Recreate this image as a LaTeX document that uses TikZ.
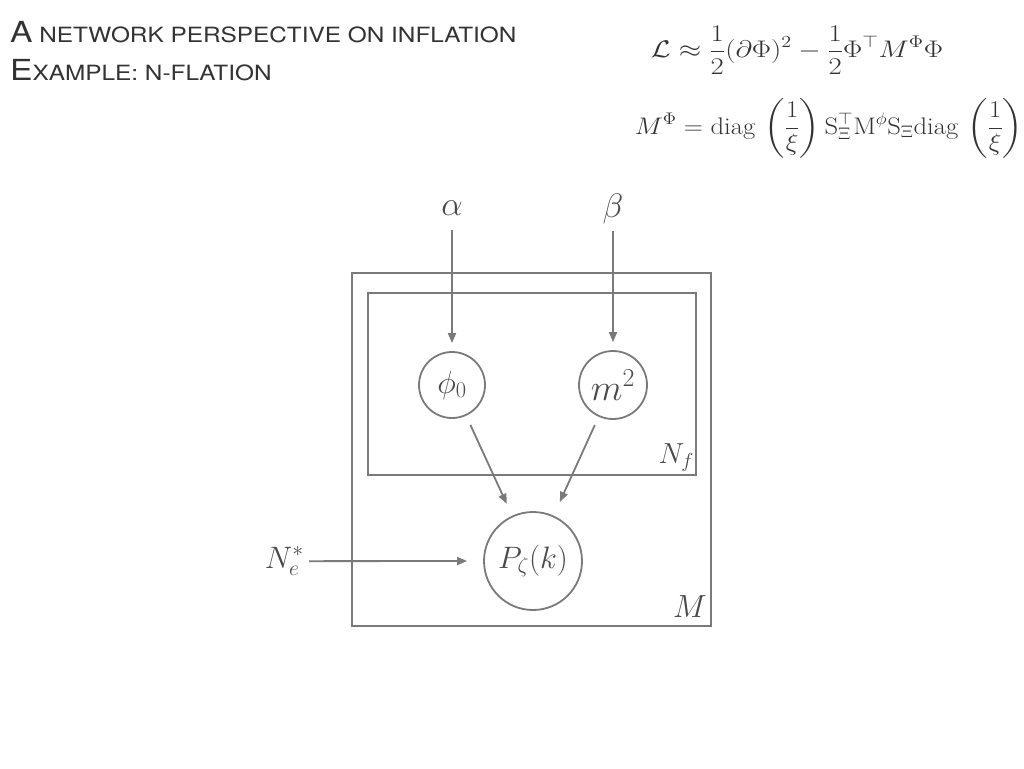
\RequirePackage{fix-cm}
\documentclass[tikz,border=0pt]{standalone}
\usepackage{amsmath}
\usepackage{fontspec}
\newfontfamily\hfont[FakeStretch=1.16]{TeX Gyre Heros}
\usetikzlibrary{arrows.meta}
\definecolor{lc}{HTML}{7A7A7A}
\definecolor{tc}{HTML}{4A4A4A}
\definecolor{hc}{HTML}{333333}
\newcommand{\fs}[1]{\fontsize{#1}{#1}\selectfont}
\tikzset{
  lin/.style={draw=lc, line width=1.8pt},
  arr/.style={lin, -{Triangle[length=10pt,width=8pt]}},
  var/.style={circle, lin, text=tc, inner sep=0pt},
  lbl/.style={text=tc, inner sep=0pt},
  plate/.style={lin},
  ttl/.style={text=hc, inner sep=0pt, anchor=base west},
  eqn/.style={text=hc, inner sep=0pt}
}
\begin{document}
\begin{tikzpicture}[x=1pt,y=-1pt]
\useasboundingbox (0,0) rectangle (1024,768);
% titles
\node[ttl] (t1) at (10,43) {\hfont\fs{29}A\fs{21} NETWORK PERSPECTIVE ON INFLATION};
\node[ttl] (t2) at (10,80) {\hfont\fs{29}E\fs{21}XAMPLE: N-FLATION};
% equations
\node[eqn] (eq1) at (797,50) {\scalebox{1.2}[1]{\fs{24}$\displaystyle \mathcal{L}\approx\frac{1}{2}(\partial\Phi)^2-\frac{1}{2}\Phi^\top M^\Phi\Phi$}};
\node[eqn] (eq2) at (829,128) {\scalebox{1.11}[1]{\fs{24}$\displaystyle M^\Phi=\mathrm{diag}\,\left(\frac{1}{\xi}\right)\mathrm{S}_\Xi^\top\mathrm{M}^\phi\mathrm{S}_\Xi\mathrm{diag}\,\left(\frac{1}{\xi}\right)$}};
% plates
\draw[plate] (352,273) rectangle (711,626);
\draw[plate] (368,293) rectangle (696,475);
\node[lbl, anchor=base east] (Nf) at (694,463) {\fs{29}$N_f$};
\node[lbl, anchor=base east] (Ml) at (707,617) {\fs{32}$M$};
% nodes
\node[var, minimum size=66pt] (phi) at (452,385) {\fs{32}$\phi_0$};
\node[var, minimum size=68pt] (m2) at (613,385) {\fs{37}$m^2$};
\node[var, minimum size=98pt] (P) at (533,561) {\fs{31}$P_\zeta(k)$};
\node[lbl, anchor=base] (al) at (452,215) {\fs{34}$\alpha$};
\node[lbl, anchor=base] (be) at (613,217) {\fs{34}$\beta$};
\node[lbl, anchor=base east] (Ne) at (304,568) {\fs{31}$N_e^*$};
% connectors
\draw[arr, shorten <=15pt, shorten >=8pt] (al.south) -- (phi.north);
\draw[arr, shorten <=7pt, shorten >=8pt] (be.south) -- (m2.north);
\draw[arr, shorten <=10pt, shorten >=13pt] (phi) -- (P);
\draw[arr, shorten <=9pt, shorten >=15pt] (m2) -- (P);
\draw[arr, shorten <=5pt, shorten >=16pt] (Ne.east) -- (P.west);
\end{tikzpicture}
\end{document}
